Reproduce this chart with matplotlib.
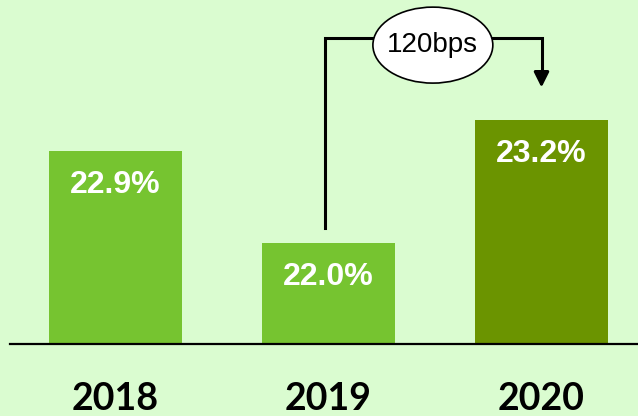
import matplotlib
matplotlib.use("Agg")
import matplotlib.pyplot as plt
from matplotlib.patches import Ellipse
from matplotlib import font_manager as fm

# data
years = ["2018", "2019", "2020"]
margins = [22.9, 22.0, 23.2]
bar_colors = ["#76C430", "#76C430", "#6B9400"]
change_label = "120bps"

bg = "#DAFCD0"
base = 21.015
names = {f.name for f in fm.fontManager.ttflist}
narrow = "Liberation Sans Narrow" if "Liberation Sans Narrow" in names else "Liberation Sans"

fig = plt.figure(figsize=(6.38, 4.16), dpi=100)
fig.patch.set_facecolor(bg)
ax = fig.add_axes([0, 72 / 416, 1, 344 / 416])
ax.set_facecolor(bg)

x = list(range(len(years)))
ax.bar(x, [v - base for v in margins], bottom=base, width=0.624, color=bar_colors)
ax.set_xlim(-0.542, 2.453)
ax.set_ylim(base, 24.37)
ax.axis("off")

# baseline
ax.plot([10 / 638, 1], [0, 0], transform=ax.transAxes, color="black", lw=1.6, clip_on=False)

for xi, v, yr in zip(x, margins, years):
    ax.text(xi, v - 0.33, f"{v:.1f}%", ha="center", va="center", color="white",
            fontsize=23, fontweight="bold", family=[narrow, "DejaVu Sans"])
    ax.text(xi, -0.16, yr, transform=ax.get_xaxis_transform(), ha="center", va="center",
            fontsize=27, fontweight="bold", family=["Lato", "DejaVu Sans"], clip_on=False)

# connector from 2019 to 2020
y_top = 24.0
x0 = x[1] - 0.016
x1 = x[2]
ax.plot([x0, x0, x1, x1], [margins[1] + 0.146, y_top, y_top, 23.62], color="black", lw=2.2,
        solid_joinstyle="miter", clip_on=False)
ax.annotate("", xy=(x1, margins[2] + 0.29), xytext=(x1, 23.66),
            arrowprops=dict(arrowstyle="-|>,head_length=0.9,head_width=0.45", color="black", lw=2.2))
ell = Ellipse((1.49, 23.93), 0.563, 0.741, facecolor="white", edgecolor="black", lw=1.2, zorder=5)
ax.add_patch(ell)
ax.text(1.49, 23.93, change_label, ha="center", va="center", fontsize=20, zorder=6,
        family=[narrow, "DejaVu Sans"])

fig.savefig("out.png", dpi=100, facecolor=bg)
